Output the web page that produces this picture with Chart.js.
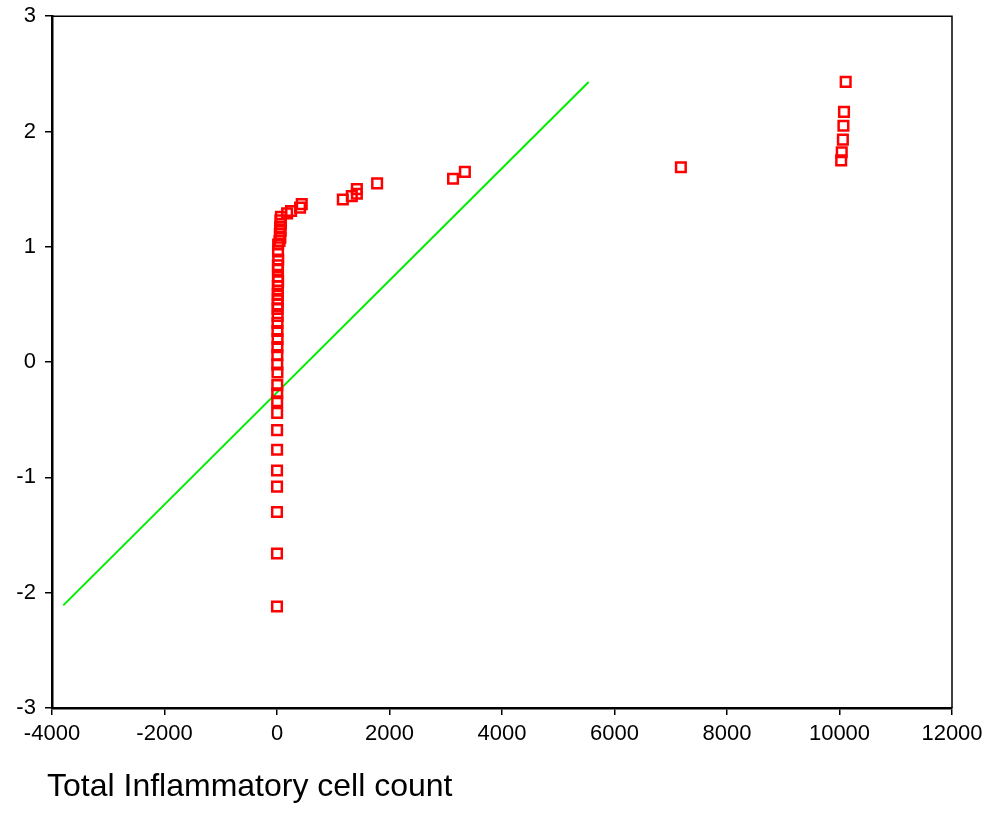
<!DOCTYPE html>
<html>
<head>
<meta charset="utf-8">
<script src="https://cdn.jsdelivr.net/npm/chart.js@4"></script>
<style>
  html, body { margin: 0; padding: 0; background: #fff; }
  #wrap { width: 998px; height: 828px; }
</style>
</head>
<body>
<div id="wrap"><canvas id="qqChart" width="998" height="828"></canvas></div>
<script>
// Observed values (x) and expected normal values (y)
const cellCount = [
  10110, 10080, 10070, 10060, 10040, 10030,
  7180,
  3340, 3130,
  1780, 1420, 1420, 1330, 1170,
  440, 410, 250, 180, 70,
  60, 70, 55, 65, 50, 60, 45,
  20, 18, 22, 15, 18, 16, 20, 14, 17, 15, 12, 14, 10, 12, 9, 8, 10, 7, 6, 5, 8,
  5, 4, 3, 3, 2, 2, 1, 1, 0, 0, 0
];
const expectedNormal = [
  2.43, 2.17, 2.05, 1.93, 1.82, 1.75,
  1.69,
  1.65, 1.59,
  1.55, 1.50, 1.46, 1.44, 1.41,
  1.37, 1.34, 1.31, 1.29, 1.26,
  1.23, 1.20, 1.17, 1.14, 1.11, 1.08, 1.05,
  1.02, 0.96, 0.89, 0.84, 0.80, 0.74, 0.70, 0.66, 0.62, 0.59, 0.55, 0.50, 0.46, 0.40, 0.34, 0.27, 0.20, 0.13, 0.06, -0.02, -0.09,
  -0.20, -0.27, -0.34, -0.44, -0.59, -0.76, -0.94, -1.08, -1.30, -1.66, -2.12
];

// Reference line
const lineX = [-3800, 5540];
const lineY = [-2.11, 2.43];

const xTicks = [-4000, -2000, 0, 2000, 4000, 6000, 8000, 10000, 12000];
const yTicks = [-3, -2, -1, 0, 1, 2, 3];

const points = cellCount.map((v, i) => ({ x: v, y: expectedNormal[i] }));
const linePts = lineX.map((v, i) => ({ x: v, y: lineY[i] }));

const fontFam = '"Liberation Sans", Arial, sans-serif';

// frame + axis title
const extras = {
  id: 'extras',
  afterDraw(chart) {
    const { ctx, chartArea } = chart;
    ctx.save();
    ctx.strokeStyle = '#000';
    ctx.lineWidth = 1.5;
    ctx.beginPath();
    ctx.moveTo(chartArea.left, chartArea.top);
    ctx.lineTo(chartArea.right, chartArea.top);
    ctx.lineTo(chartArea.right, chartArea.bottom);
    ctx.stroke();
    ctx.fillStyle = '#000';
    ctx.font = '32px ' + fontFam;
    ctx.textBaseline = 'alphabetic';
    ctx.fillText('Total Inflammatory cell count', 47, 796);
    ctx.restore();
  }
};

new Chart(document.getElementById('qqChart').getContext('2d'), {
  type: 'scatter',
  data: {
    datasets: [
      {
        data: linePts,
        showLine: true,
        borderColor: '#00ee00',
        borderWidth: 2,
        pointRadius: 0,
        fill: false,
        order: 2
      },
      {
        data: points,
        pointStyle: 'rect',
        pointRadius: 6.8,
        pointBorderWidth: 2.5,
        pointBorderColor: '#ff0000',
        pointBackgroundColor: 'rgba(0,0,0,0)',
        order: 1
      }
    ]
  },
  options: {
    responsive: false,
    animation: false,
    layout: { padding: { top: 12, right: 46, left: 0, bottom: 0 } },
    plugins: { legend: { display: false }, tooltip: { enabled: false } },
    scales: {
      x: {
        type: 'linear',
        min: -4000,
        max: 12000,
        afterBuildTicks: s => { s.ticks = xTicks.map(v => ({ value: v })); },
        afterFit: s => { s.height = 120; },
        grid: { drawOnChartArea: false, drawTicks: true, tickLength: 7, color: '#000', lineWidth: 1.5 },
        border: { display: true, color: '#000', width: 2.5 },
        ticks: { color: '#000', font: { family: fontFam, size: 22 }, padding: 6, maxRotation: 0, callback: v => String(v) }
      },
      y: {
        type: 'linear',
        min: -3,
        max: 3,
        afterBuildTicks: s => { s.ticks = yTicks.map(v => ({ value: v })); },
        afterFit: s => { s.width = 52; },
        grid: { drawOnChartArea: false, drawTicks: true, tickLength: 7, color: '#000', lineWidth: 1.5 },
        border: { display: true, color: '#000', width: 2.5 },
        ticks: { color: '#000', font: { family: fontFam, size: 22 }, padding: 3, callback: v => String(v) + ' ' }
      }
    }
  },
  plugins: [extras]
});
</script>
</body>
</html>
